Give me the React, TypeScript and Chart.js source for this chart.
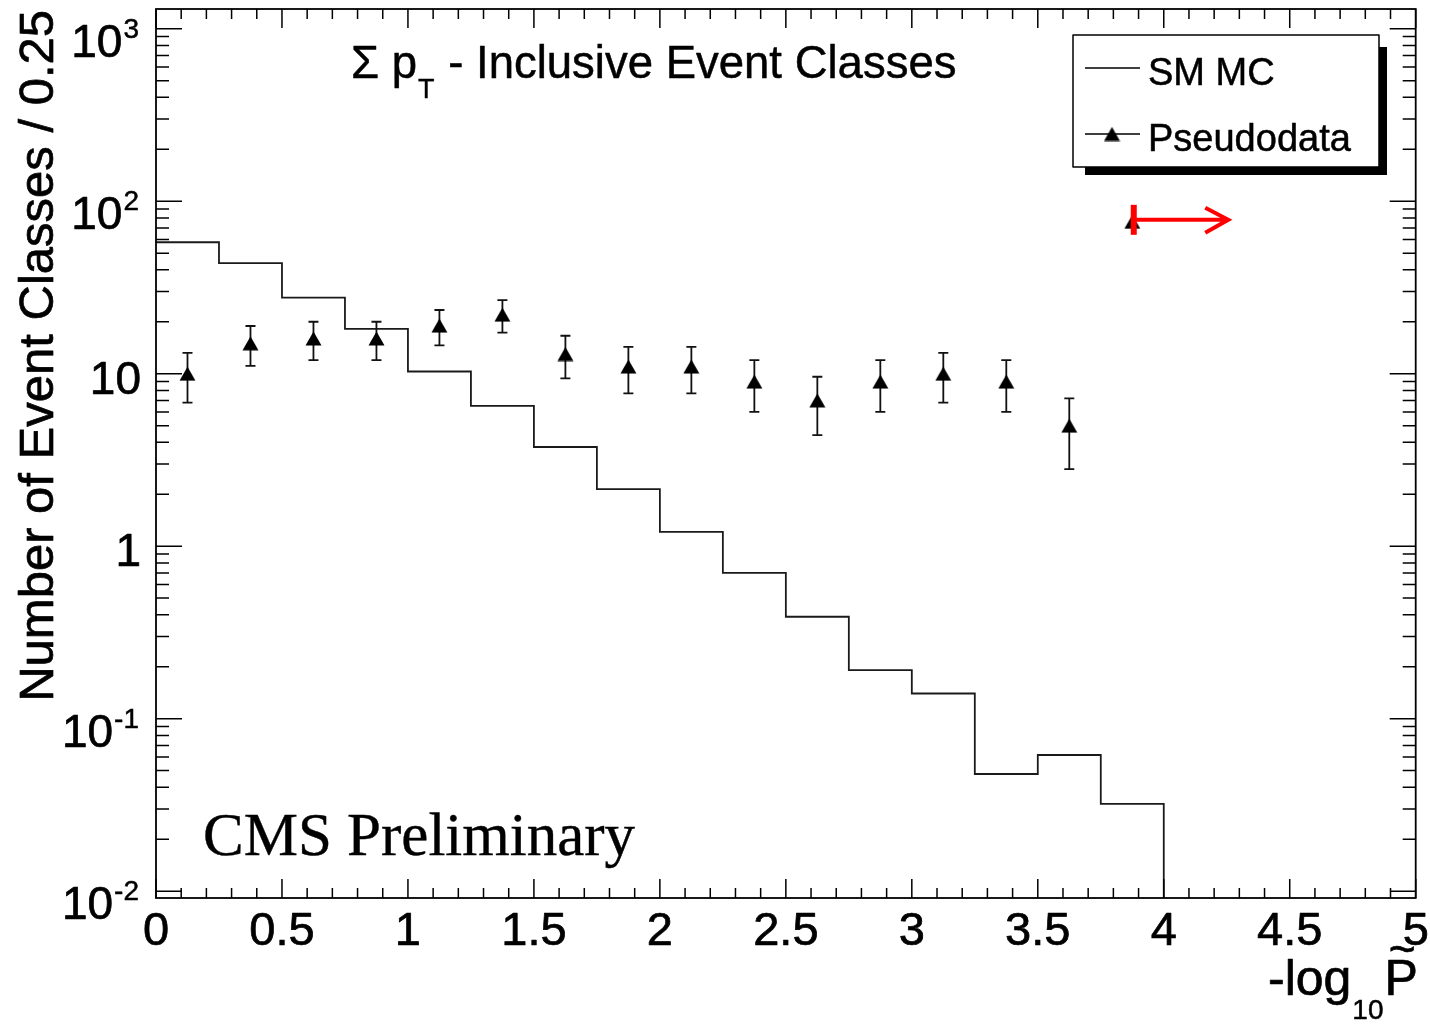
import React, { useEffect, useRef } from "react";
import { Chart, registerables } from "chart.js";

Chart.register(...registerables);

// ---------------- data ----------------
const binWidth = 0.25;
const binLowEdges = [0, 0.25, 0.5, 0.75, 1, 1.25, 1.5, 1.75, 2, 2.25, 2.5, 2.75, 3, 3.25, 3.5, 3.75];
const mcCounts = [57.8, 43.8, 27.6, 18.2, 10.3, 6.5, 3.76, 2.14, 1.21, 0.7, 0.39, 0.191, 0.14, 0.0478, 0.0616, 0.0321];

const dataCenters = [0.125, 0.375, 0.625, 0.875, 1.125, 1.375, 1.625, 1.875, 2.125, 2.375, 2.625, 2.875, 3.125, 3.375, 3.625];
const dataCounts = [10, 15, 16, 16, 19, 22, 13, 11, 11, 9, 7, 9, 10, 9, 5];
const dataErrHigh = [13.2, 18.9, 20.0, 20.0, 23.4, 26.7, 16.6, 14.3, 14.3, 12.0, 9.6, 12.0, 13.2, 12.0, 7.2];
const dataErrLow = [6.8, 11.1, 12.0, 12.0, 14.6, 17.3, 9.4, 7.7, 7.7, 6.0, 4.4, 6.0, 6.8, 6.0, 2.8];

const overflowX = 3.875;
const overflowCount = 76;
const overflowArrowY = 78;
const overflowArrowEnd = 4.256;

const xMin = 0;
const xMax = 5;
const yMin = 0.00913;
const yMax = 1301;

const xMajorTicks = [0, 0.5, 1, 1.5, 2, 2.5, 3, 3.5, 4, 4.5, 5];
const xTickLabels = ["0", "0.5", "1", "1.5", "2", "2.5", "3", "3.5", "4", "4.5", "5"];
const yMajorTicks = [0.01, 0.1, 1, 10, 100, 1000];
const yTickBase = ["10", "10", "1", "10", "10", "10"];
const yTickExp = ["-2", "-1", "", "", "2", "3"];

const titleMain = "\u03A3 p";
const titleSub = "T";
const titleRest = " - Inclusive Event Classes";
const yTitle = "Number of Event Classes / 0.25";
const legendLabels = ["SM MC", "Pseudodata"];
const cmsLabel = "CMS Preliminary";

const SANS = '"Liberation Sans", Arial, Helvetica, sans-serif';
const SERIF = '"Liberation Serif", "Times New Roman", serif';

function makeTriangle(): HTMLCanvasElement {
  const c = document.createElement("canvas");
  c.width = 17;
  c.height = 15;
  const g = c.getContext("2d")!;
  g.fillStyle = "#000";
  g.beginPath();
  g.moveTo(8.5, 0.5);
  g.lineTo(16.5, 14.5);
  g.lineTo(0.5, 14.5);
  g.closePath();
  g.fill();
  return c;
}

// draw text slightly emboldened (ROOT rasterised Helvetica looks heavier)
function txt(ctx: CanvasRenderingContext2D, s: string, x: number, y: number, w = 0.7) {
  ctx.fillText(s, x, y);
  if (w > 0) {
    ctx.lineWidth = w;
    ctx.strokeText(s, x, y);
  }
}

export default function App() {
  const ref = useRef<HTMLCanvasElement>(null);

  useEffect(() => {
    const canvas = ref.current;
    if (!canvas) return;
    const tri = makeTriangle();

    const mcPoints = binLowEdges.map((x, i) => ({ x, y: mcCounts[i] }));
    // closing edge of the last filled bin, dropping to the axis floor
    mcPoints.push({ x: binLowEdges[binLowEdges.length - 1] + binWidth, y: yMin });

    const dataPoints = dataCenters.map((x, i) => ({ x, y: dataCounts[i] }));
    dataPoints.push({ x: overflowX, y: overflowCount });

    const errorBars = {
      id: "errorBars",
      afterDatasetDraw(chart: any, args: any) {
        if (args.index !== 1) return;
        const { ctx, scales } = chart;
        const xs = scales.x;
        const ys = scales.y;
        ctx.save();
        ctx.strokeStyle = "#111";
        ctx.lineWidth = 1.8;
        dataCenters.forEach((cx, i) => {
          const px = xs.getPixelForValue(cx);
          const yTop = ys.getPixelForValue(dataErrHigh[i]);
          const yBot = ys.getPixelForValue(dataErrLow[i]);
          ctx.beginPath();
          ctx.moveTo(px, yTop);
          ctx.lineTo(px, yBot);
          ctx.moveTo(px - 5, yTop);
          ctx.lineTo(px + 5, yTop);
          ctx.moveTo(px - 5, yBot);
          ctx.lineTo(px + 5, yBot);
          ctx.stroke();
        });
        ctx.restore();
      },
    };

    const decorations = {
      id: "decorations",
      afterDraw(chart: any) {
        const { ctx, chartArea: a, scales } = chart;
        const xs = scales.x;
        const ys = scales.y;
        ctx.save();

        // overflow arrow
        {
          const px = xs.getPixelForValue(overflowX) + 1.5;
          const py = ys.getPixelForValue(overflowArrowY);
          const tip = xs.getPixelForValue(overflowArrowEnd);
          ctx.strokeStyle = "#ff0000";
          ctx.lineWidth = 6;
          ctx.beginPath();
          ctx.moveTo(px, py - 15);
          ctx.lineTo(px, py + 15);
          ctx.stroke();
          ctx.lineWidth = 4;
          ctx.beginPath();
          ctx.moveTo(px, py);
          ctx.lineTo(tip, py);
          ctx.moveTo(tip - 23, py - 12);
          ctx.lineTo(tip, py);
          ctx.lineTo(tip - 23, py + 13);
          ctx.stroke();
        }

        // frame
        ctx.strokeStyle = "#000";
        ctx.lineWidth = 1.8;
        ctx.strokeRect(a.left, a.top, a.right - a.left, a.bottom - a.top);

        // x ticks
        ctx.lineWidth = 1.5;
        ctx.beginPath();
        for (let k = 0; k <= 50; k++) {
          const v = xMin + k * 0.1;
          const px = xs.getPixelForValue(v);
          const len = k % 5 === 0 ? 19 : 10;
          ctx.moveTo(px, a.bottom);
          ctx.lineTo(px, a.bottom - len);
          ctx.moveTo(px, a.top);
          ctx.lineTo(px, a.top + len);
        }
        // y ticks
        for (let d = -3; d <= 3; d++) {
          for (let m = 1; m <= 9; m++) {
            const v = m * Math.pow(10, d);
            if (v < yMin || v > yMax) continue;
            const py = ys.getPixelForValue(v);
            const len = m === 1 ? 26 : 13;
            ctx.moveTo(a.left, py);
            ctx.lineTo(a.left + len, py);
            ctx.moveTo(a.right, py);
            ctx.lineTo(a.right - len, py);
          }
        }
        ctx.stroke();

        ctx.fillStyle = "#000";
        ctx.strokeStyle = "#000";
        ctx.lineJoin = "round";

        // x tick labels
        ctx.font = `47px ${SANS}`;
        ctx.textAlign = "center";
        ctx.textBaseline = "alphabetic";
        xMajorTicks.forEach((v, i) => {
          txt(ctx, xTickLabels[i], xs.getPixelForValue(v), 945);
        });

        // y tick labels
        yMajorTicks.forEach((v, i) => {
          const py = ys.getPixelForValue(v);
          ctx.textAlign = "right";
          if (yTickExp[i]) {
            ctx.font = `28px ${SANS}`;
            const ew = ctx.measureText(yTickExp[i]).width;
            txt(ctx, yTickExp[i], 139, py + 28 - 19, 0.5);
            ctx.font = `46px ${SANS}`;
            txt(ctx, yTickBase[i], 139 - ew - 1, py + 28);
          } else {
            ctx.font = `46px ${SANS}`;
            txt(ctx, yTickBase[i], 141, py + 20);
          }
        });

        // x title: -log10 P~
        {
          ctx.textAlign = "left";
          let x0 = 1268;
          ctx.font = `50px ${SANS}`;
          txt(ctx, "-log", x0, 995);
          x0 += ctx.measureText("-log").width + 1;
          ctx.font = `28px ${SANS}`;
          txt(ctx, "10", x0, 1019, 0.5);
          x0 += ctx.measureText("10").width + 1;
          ctx.font = `50px ${SANS}`;
          txt(ctx, "P", x0, 995);
          const pw = ctx.measureText("P").width;
          ctx.font = `46px ${SANS}`;
          ctx.textAlign = "center";
          txt(ctx, "~", x0 + pw / 2 + 1, 965);
        }

        // y title
        ctx.save();
        ctx.translate(53, 10);
        ctx.rotate(-Math.PI / 2);
        ctx.font = `49px ${SANS}`;
        ctx.textAlign = "right";
        txt(ctx, yTitle, 0, 0);
        ctx.restore();

        // plot title
        {
          ctx.textAlign = "left";
          let x0 = 351;
          ctx.font = `45.5px ${SANS}`;
          txt(ctx, titleMain, x0, 78, 0.5);
          x0 += ctx.measureText(titleMain).width;
          ctx.font = `27px ${SANS}`;
          txt(ctx, titleSub, x0 + 1, 98, 0.4);
          x0 += ctx.measureText(titleSub).width + 2;
          ctx.font = `45.5px ${SANS}`;
          txt(ctx, titleRest, x0, 78, 0.5);
        }

        // CMS Preliminary
        ctx.font = `61px ${SERIF}`;
        ctx.textAlign = "left";
        txt(ctx, cmsLabel, 203, 855, 0.4);

        // legend
        ctx.fillStyle = "#000";
        ctx.fillRect(1085, 47, 302, 128);
        ctx.fillStyle = "#fff";
        ctx.fillRect(1073, 35, 306, 132);
        ctx.strokeStyle = "#000";
        ctx.lineWidth = 1.5;
        ctx.strokeRect(1073, 35, 306, 132);
        ctx.beginPath();
        ctx.moveTo(1085, 68);
        ctx.lineTo(1140, 68);
        ctx.moveTo(1085, 134);
        ctx.lineTo(1140, 134);
        ctx.stroke();
        ctx.drawImage(tri, 1112 - tri.width / 2, 134 - tri.height / 2);
        ctx.fillStyle = "#000";
        ctx.font = `38px ${SANS}`;
        ctx.textAlign = "left";
        txt(ctx, legendLabels[0], 1148, 85, 0.5);
        txt(ctx, legendLabels[1], 1148, 151, 0.5);

        ctx.restore();
      },
    };

    const chart = new Chart(canvas, {
      type: "scatter",
      data: {
        datasets: [
          {
            label: legendLabels[1],
            data: dataPoints,
            showLine: false,
            pointStyle: tri as any,
            pointRadius: 8,
            backgroundColor: "#000",
            borderColor: "#000",
          },
          {
            type: "line",
            label: legendLabels[0],
            data: mcPoints,
            stepped: "before",
            borderColor: "#1a1a1a",
            borderWidth: 1.8,
            pointRadius: 0,
            fill: false,
            tension: 0,
          } as any,
        ],
      },
      options: {
        responsive: false,
        maintainAspectRatio: false,
        devicePixelRatio: 1,
        animation: false,
        layout: { padding: { left: 156, top: 9, right: 14.3, bottom: 126 } },
        plugins: {
          legend: { display: false },
          tooltip: { enabled: false },
          title: { display: false },
        },
        scales: {
          x: { type: "linear", min: xMin, max: xMax, display: false },
          y: { type: "logarithmic", min: yMin, max: yMax, display: false },
        },
        events: [],
      },
      plugins: [errorBars, decorations],
    });

    return () => chart.destroy();
  }, []);

  return (
    <div style={{ position: "fixed", left: 0, top: 0, width: 1430, height: 1024, background: "#fff" }}>
      <canvas ref={ref} width={1430} height={1024} style={{ display: "block", width: 1430, height: 1024 }} />
    </div>
  );
}
